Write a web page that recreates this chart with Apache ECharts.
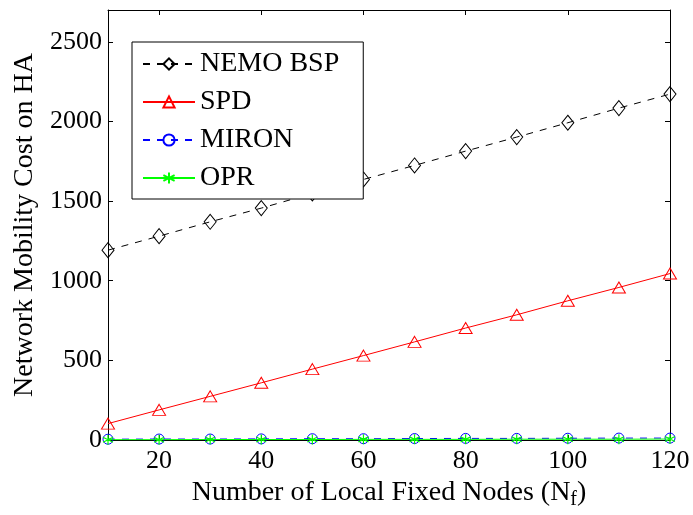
<!DOCTYPE html>
<html>
<head>
<meta charset="utf-8">
<script src="https://cdn.jsdelivr.net/npm/echarts@6/dist/echarts.min.js"></script>
<style>
  html, body { margin: 0; padding: 0; background: #fff; }
  #chart { width: 693px; height: 515px; }
</style>
</head>
<body>
<div id="chart"></div>
<script>
// Number of local fixed nodes N_f
const nodes = [10, 20, 30, 40, 50, 60, 70, 80, 90, 100, 110, 120];

// Network mobility cost on the HA for each scheme
const nemoBsp = [1192, 1280, 1370, 1456, 1548, 1636, 1724, 1814, 1902, 1992, 2084, 2172];
const spd     = [103, 189, 274, 359, 445, 530, 616, 703, 786, 874, 958, 1045];
const miron   = [5, 6, 6, 7, 8, 8, 9, 10, 10, 11, 12, 12];
const opr     = [2, 2, 3, 3, 3, 4, 4, 4, 5, 5, 5, 6];

// Tick labels
const xTicks = [20, 40, 60, 80, 100, 120];
const yTicks = [0, 500, 1000, 1500, 2000, 2500];

const FONT = '"Liberation Serif", "Times New Roman", serif';
const asterisk = 'path://M0,-5L0,5M-4.3,-2.5L4.3,2.5M-4.3,2.5L4.3,-2.5';

const pair = (xs, ys) => xs.map((x, i) => [x, ys[i]]);
const plain = v => String(v);

const chart = echarts.init(document.getElementById('chart'), null, { renderer: 'canvas' });

const tickCommon = { inside: true, length: 5, lineStyle: { color: '#000', width: 1 } };

chart.setOption({
  animation: false,
  backgroundColor: '#fff',
  grid: { left: 108, right: 23, top: 10, bottom: 74, containLabel: false },
  legend: {
    orient: 'vertical',
    left: 132,
    top: 42,
    padding: [8, 24, 7, 10],
    itemWidth: 52,
    itemHeight: 14,
    itemGap: 10,
    borderColor: '#000',
    borderWidth: 1,
    backgroundColor: '#fff',
    textStyle: { fontFamily: FONT, fontSize: 28, color: '#000', lineHeight: 28 },
    data: ['NEMO BSP', 'SPD', 'MIRON', 'OPR']
  },
  xAxis: [
    {
      type: 'value', min: 10, max: 120, position: 'bottom',
      name: '{n|Number of Local Fixed Nodes (N}{s|f}{n|)}',
      nameLocation: 'middle', nameGap: 36,
      nameTextStyle: {
        rich: {
          n: { fontFamily: FONT, fontSize: 28, color: '#000' },
          s: { fontFamily: FONT, fontSize: 20, color: '#000', padding: [14, 0, 0, 0] }
        }
      },
      axisLine: { lineStyle: { color: '#000', width: 1 } },
      axisTick: Object.assign({ customValues: xTicks }, tickCommon),
      axisLabel: { customValues: xTicks, formatter: plain, fontFamily: FONT, fontSize: 26, color: '#000', margin: 8 },
      splitLine: { show: false }
    },
    {
      type: 'value', min: 10, max: 120, position: 'top',
      axisLine: { onZero: false, lineStyle: { color: '#000', width: 1 } },
      axisTick: Object.assign({ customValues: xTicks }, tickCommon),
      axisLabel: { show: false },
      splitLine: { show: false }
    }
  ],
  yAxis: [
    {
      type: 'value', min: 0, max: 2700, position: 'left',
      name: 'Network Mobility Cost on HA',
      nameLocation: 'middle', nameGap: 52,
      nameTextStyle: { fontFamily: FONT, fontSize: 28, color: '#000' },
      axisLine: { show: true, lineStyle: { color: '#000', width: 1 } },
      axisTick: Object.assign({ show: true, customValues: yTicks }, tickCommon),
      axisLabel: { customValues: yTicks, formatter: plain, fontFamily: FONT, fontSize: 26, color: '#000', margin: 6 },
      splitLine: { show: false }
    },
    {
      type: 'value', min: 0, max: 2700, position: 'right',
      axisLine: { show: true, onZero: false, lineStyle: { color: '#000', width: 1 } },
      axisTick: Object.assign({ show: true, customValues: yTicks }, tickCommon),
      axisLabel: { show: false },
      splitLine: { show: false }
    }
  ],
  series: [
    {
      name: 'NEMO BSP', type: 'line', data: pair(nodes, nemoBsp),
      symbol: 'diamond', symbolSize: [12, 15],
      lineStyle: { color: '#000', width: 1, type: [7, 7] },
      itemStyle: { color: 'rgba(0,0,0,0)', borderColor: '#000', borderWidth: 1 },
      z: 2
    },
    {
      name: 'SPD', type: 'line', data: pair(nodes, spd),
      symbol: 'triangle', symbolSize: [13, 11],
      lineStyle: { color: '#ff0000', width: 1, type: 'solid' },
      itemStyle: { color: 'rgba(0,0,0,0)', borderColor: '#ff0000', borderWidth: 1 },
      z: 3
    },
    {
      name: 'MIRON', type: 'line', data: pair(nodes, miron),
      symbol: 'circle', symbolSize: 10,
      lineStyle: { color: '#0000ff', width: 1, type: [7, 7] },
      itemStyle: { color: 'rgba(0,0,0,0)', borderColor: '#0000ff', borderWidth: 1 },
      z: 4
    },
    {
      name: 'OPR', type: 'line', data: pair(nodes, opr),
      symbol: asterisk, symbolSize: 10,
      lineStyle: { color: '#00ff00', width: 1, type: 'solid' },
      itemStyle: { color: 'rgba(0,0,0,0)', borderColor: '#00ff00', borderWidth: 1.2 },
      z: 5
    }
  ]
});
</script>
</body>
</html>
